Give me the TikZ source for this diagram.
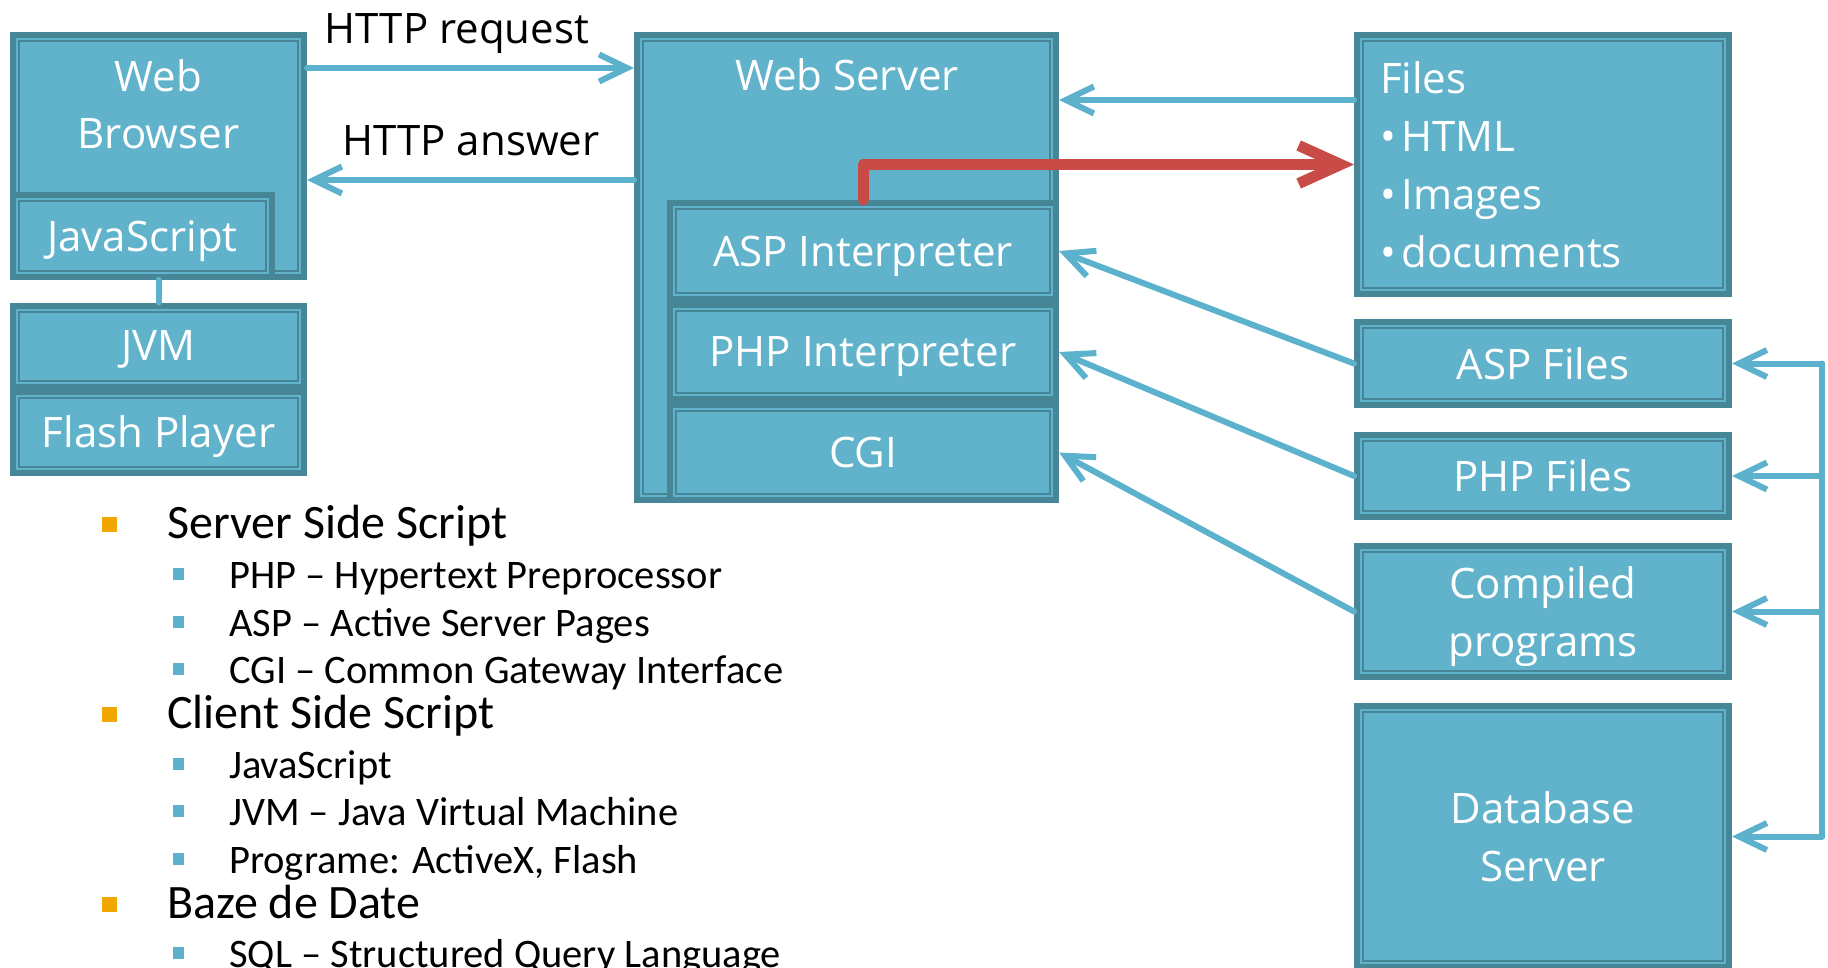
\documentclass[tikz,border=0pt]{standalone}
\usepackage{fontspec}
\setmainfont{Open Sans}
\newfontfamily\listfont{Carlito}
\usetikzlibrary{arrows.meta,positioning}

\definecolor{boxfill}{RGB}{97,178,203}
\definecolor{boxdark}{RGB}{70,134,150}
\definecolor{linkblue}{RGB}{92,178,204}
\definecolor{linkred}{RGB}{200,75,72}
\definecolor{bulletorange}{RGB}{240,168,0}

\tikzset{
  tier/.style={rectangle, fill=boxfill, draw=boxdark, line width=2pt,
    double=boxfill, double distance=2pt,
    preaction={draw=boxdark, line width=14pt},
    inner sep=0pt, outer sep=7pt, text=white, align=center, text depth=0pt,
    font=\fontsize{42}{58}\selectfont},
  dims/.style 2 args={minimum width=#1pt-14pt, minimum height=#2pt-14pt},
  title/.style={text=white, align=center, font=\fontsize{42}{57}\selectfont},
  msg/.style={anchor=base, text=black, font=\fontsize{42}{50}\selectfont},
  link/.style={draw=linkblue, line width=6pt, line cap=round, line join=round,
    -{Straight Barb[length=28pt,width=27pt]}},
  hot/.style={draw=linkred, line width=11pt, line cap=round, line join=round,
    -{Straight Barb[length=42pt,width=38pt]}},
  lvlone/.style={anchor=base west, inner sep=0pt, font=\listfont\fontsize{48}{52}\selectfont},
  lvltwo/.style={anchor=base west, inner sep=0pt, font=\listfont\fontsize{40.5}{44}\selectfont}
}

\begin{document}
\begin{tikzpicture}[x=1pt,y=-1pt]
  \useasboundingbox (0,0) rectangle (1828,967);

  \node[tier, dims={297}{248}] (browser) at (158.5,156) {};
  \node[title, anchor=base] (browser-title) at (158.5,148) {Web\\Browser};
  \node[tier, dims={265}{88}] (js) at (142.5,236) {JavaScript};
  \node[tier, dims={297}{87}] (jvm) at (158.5,346) {JVM};
  \node[tier, dims={297}{87}] (flash) [below=-1pt of jvm] {Flash Player};

  \node[tier, dims={425}{471}] (ws) at (846.5,267.5) {};
  \node[title, anchor=base] (ws-title) at (847,90) {Web Server};
  \node[tier, dims={392}{102}] (aspi) at (863,251) {ASP Interpreter};
  \node[tier, dims={392}{100}] (phpi) [below=0pt of aspi] {PHP Interpreter};
  \node[tier, dims={392}{101}] (cgi) [below=0pt of phpi] {CGI};

  \node[tier, dims={378}{265}, align=left, text depth={}, text width=326pt, inner xsep=19pt] (files) at (1543,164.5)
    {Files\\\textbullet\hspace{6pt}HTML\\\textbullet\hspace{6pt}Images\\\textbullet\hspace{6pt}documents};
  \node[tier, dims={378}{89}] (aspf) [below=22pt of files] {ASP Files};
  \node[tier, dims={378}{88}] (phpf) [below=24pt of aspf] {PHP Files};
  \node[tier, dims={378}{137}] (comp) [below=23pt of phpf] {Compiled\\programs};
  \node[tier, dims={378}{267}] (db) [below=23pt of comp] {Database\\Server};

  \node[msg] (req) at (457,43) {HTTP request};
  \node[msg] (ans) at (471,155) {HTTP answer};

  \draw[link] ([yshift=88pt]browser.east) -- ([yshift=88pt]browser.east -| ws.west);
  \draw[link] ([yshift=-24pt]browser.east -| ws.west) -- ([yshift=-24pt]browser.east);
  \draw[link, -] (jvm.north |- js.south) -- (jvm.north);

  \draw[link] ([yshift=64.5pt]files.west) -- ([yshift=64.5pt]files.west -| ws.east);
  \draw[hot] (aspi.north) |- (files.west);
  \draw[link] (aspf.west) -- (aspi.east);
  \draw[link] (phpf.west) -- (phpi.east);
  \draw[link] (comp.west) -- (cgi.east);

  \coordinate (bustop) at (aspf.east -| 1822,0);
  \coordinate (busbot) at (db.east -| 1822,0);
  \draw[link] (busbot) -- (bustop) -- (aspf.east);
  \draw[link] (bustop) -- (busbot) -- (db.east);
  \draw[link] (phpf.east -| bustop) -- (phpf.east);
  \draw[link] (comp.east -| bustop) -- (comp.east);

  \foreach \y/\txt [count=\i] in {538/Server Side Script, 728/Client Side Script, 918/Baze de Date}{
    \fill[bulletorange] (102,\y-21) rectangle (117,\y-6);
    \node[lvlone] (head\i) at (167,\y) {\txt};
  }
  \foreach \y/\txt [count=\i] in {588/PHP – Hypertext Preprocessor, 636/ASP – Active Server Pages,
      683/CGI – Common Gateway Interface, 778/JavaScript, 825/JVM – Java Virtual Machine,
      873/{Programe: ActiveX, Flash}, 967/SQL – Structured Query Language}{
    \fill[linkblue] (173,\y-20) rectangle (184,\y-8);
    \node[lvltwo] (item\i) at (229,\y) {\txt};
  }
\end{tikzpicture}
\end{document}
